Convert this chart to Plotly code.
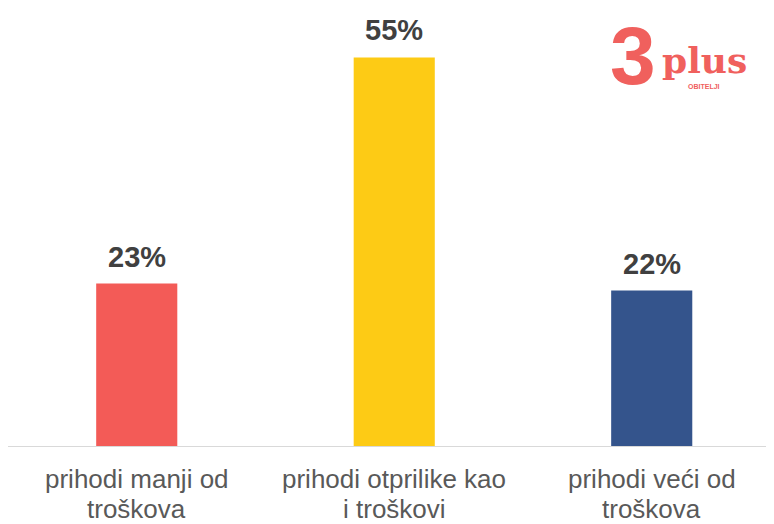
import plotly.graph_objects as go

categories = ["prihodi manji od troškova", "prihodi otprilike kao i troškovi", "prihodi veći od troškova"]
label_line1 = ["prihodi manji od", "prihodi otprilike kao", "prihodi veći od"]
label_line2 = ["troškova", "i troškovi", "troškova"]
values = [23, 55, 22]
value_labels = ["23%", "55%", "22%"]
colors = ["#F35B57", "#FDCB15", "#34548C"]

FONT = "Liberation Sans, Arial, sans-serif"
# page body has an 8px margin, so the figure is drawn 8px right/down of the window origin
OFF = 8
W, H = 774 - OFF, 524 - OFF
PLOT_BOTTOM = 446 - OFF  # in figure coords
PLOT_LEFT, PLOT_RIGHT = 8 - OFF, 773 - OFF

fig = go.Figure()
fig.add_trace(go.Bar(
    x=categories, y=values, marker=dict(color=colors, line=dict(width=0)),
    width=0.315, hoverinfo="skip",
))

annotations = []
for c, v, t in zip(categories, values, value_labels):
    annotations.append(dict(x=c, y=v, xref="x", yref="y", text=t, showarrow=False,
                            yanchor="middle", yshift=27,
                            font=dict(family=FONT, size=29, color="#404040", weight="bold")))
for c, l1, l2 in zip(categories, label_line1, label_line2):
    annotations.append(dict(x=c, y=0, xref="x", yref="paper", text=l1, showarrow=False,
                            yanchor="middle", yshift=-33,
                            font=dict(family=FONT, size=26, color="#595959")))
    annotations.append(dict(x=c, y=0, xref="x", yref="paper", text=l2, showarrow=False,
                            yanchor="middle", yshift=-63,
                            font=dict(family=FONT, size=26, color="#595959")))

# logo approximation (positions in window pixels)
logo_color = "#F0605D"
logo = [
    ("3", 633, 55, 82, FONT),
    ("plus", 704, 60, 36, "DejaVu Serif, serif"),
    ("OBITELJI", 704, 86, 7, FONT),
]
plot_w = PLOT_RIGHT - PLOT_LEFT
for txt, px, py, size, fam in logo:
    annotations.append(dict(x=(px - OFF - PLOT_LEFT) / plot_w, y=(PLOT_BOTTOM - (py - OFF)) / PLOT_BOTTOM,
                            xref="paper", yref="paper", text=txt, showarrow=False,
                            xanchor="center", yanchor="middle",
                            font=dict(family=fam, size=size, color=logo_color, weight="bold")))

fig.update_layout(
    width=W, height=H,
    margin=dict(l=PLOT_LEFT, r=W - PLOT_RIGHT, t=0, b=H - PLOT_BOTTOM, pad=0),
    paper_bgcolor="white", plot_bgcolor="white",
    showlegend=False,
    xaxis=dict(type="category", range=[-0.5, 2.471], showticklabels=False, ticks="",
               showline=True, linecolor="#D9D9D9", linewidth=1, showgrid=False, zeroline=False,
               fixedrange=True),
    yaxis=dict(range=[0, 62], visible=False, showgrid=False, zeroline=False, fixedrange=True),
    annotations=annotations,
)

fig.write_html("out.html", config={"displayModeBar": False})
